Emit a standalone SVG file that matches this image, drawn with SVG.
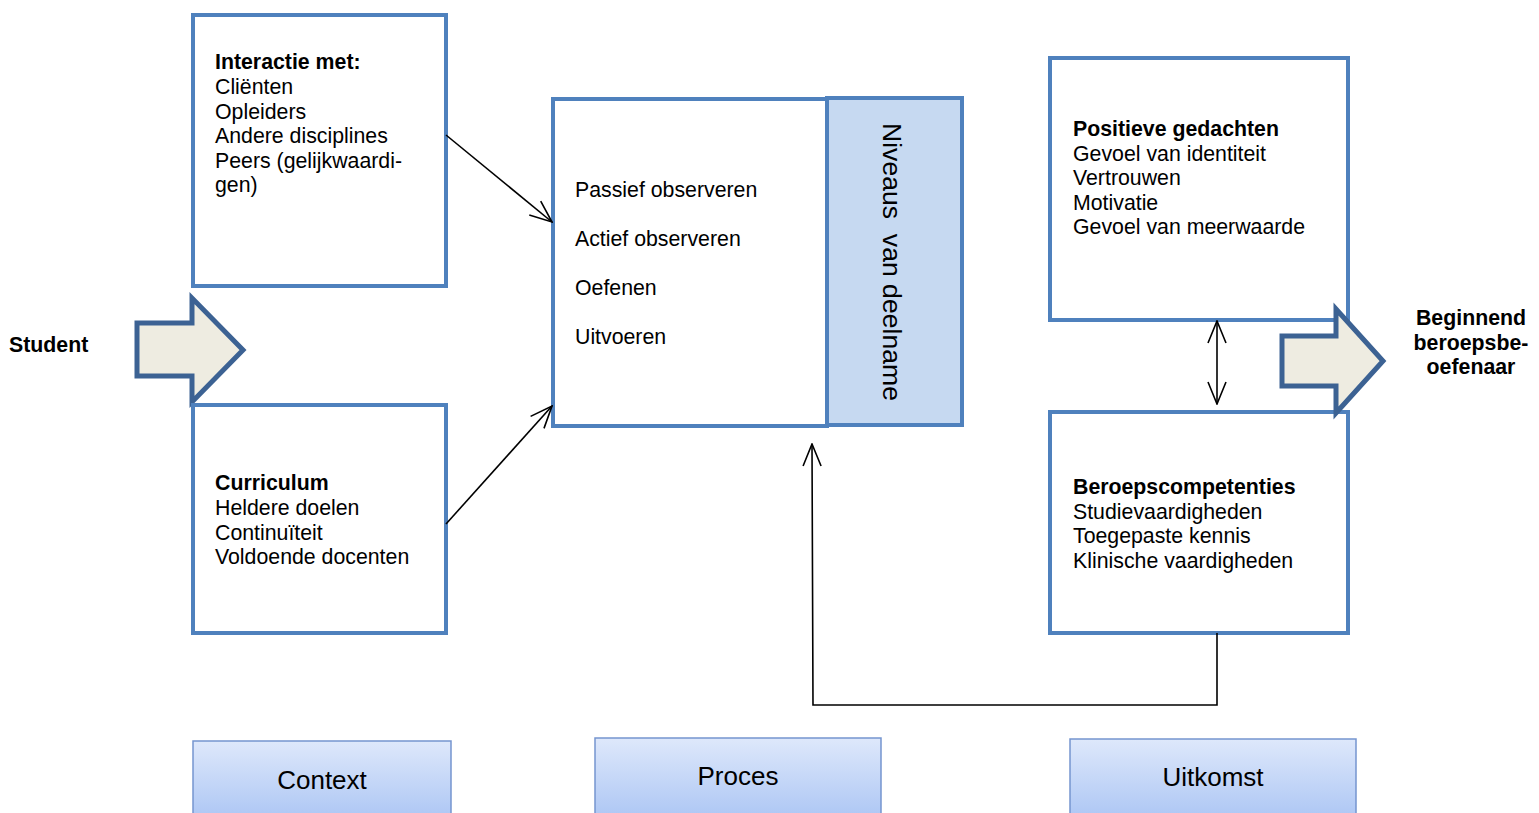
<svg xmlns="http://www.w3.org/2000/svg" width="1539" height="813" viewBox="0 0 1539 813">
<style>
.box{fill:#fff;stroke:#4F81BD;stroke-width:4}
.t{font-family:"Liberation Sans",Arial,sans-serif;font-size:21.3px;fill:#000}
.b{font-weight:bold}
.big{font-family:"Liberation Sans",Arial,sans-serif;font-size:26px;fill:#000}
.conn{stroke:#000;stroke-width:1.6;fill:none}
.fat{fill:#EEECE1;stroke:#3C6293;stroke-width:5;stroke-linejoin:miter}
.btn{fill:url(#g);stroke:#7595CF;stroke-width:1.5}
</style>
<defs>
<linearGradient id="g" x1="0" y1="0" x2="0" y2="1">
<stop offset="0" stop-color="#DEE8FB"/>
<stop offset="1" stop-color="#A5C1F3"/>
</linearGradient>
<marker id="ah2" viewBox="0 0 24 24" refX="23" refY="12" markerWidth="24" markerHeight="24" markerUnits="userSpaceOnUse" orient="auto-start-reverse">
<path d="M1,3 L23,12 L1,21" fill="none" stroke="#000" stroke-width="1.6"/>
</marker>
</defs>

<g id="student">
<text class="t b" x="9" y="352">Student</text>
</g>
<g id="arrow-left">
<path class="fat" d="M137,323 L192,323 L192,298 L243,350 L192,402 L192,376 L137,376 Z"/>
</g>

<g id="interactie">
<rect class="box" x="193" y="15" width="253" height="271"/>
<text class="t" x="215" y="69"><tspan class="b">Interactie met:</tspan><tspan x="215" dy="25">Cliënten</tspan><tspan x="215" dy="24.5">Opleiders</tspan><tspan x="215" dy="24.5">Andere disciplines</tspan><tspan x="215" dy="24.5">Peers (gelijkwaardi-</tspan><tspan x="215" dy="24.5">gen)</tspan></text>
</g>

<g id="curriculum">
<rect class="box" x="193" y="405" width="253" height="228"/>
<text class="t" x="215" y="490"><tspan class="b">Curriculum</tspan><tspan x="215" dy="25">Heldere doelen</tspan><tspan x="215" dy="24.5">Continuïteit</tspan><tspan x="215" dy="24.5">Voldoende docenten</tspan></text>
</g>

<g id="proces-box">
<rect class="box" x="553" y="99" width="274" height="327"/>
<text class="t" x="575" y="197">Passief observeren</text>
<text class="t" x="575" y="246">Actief observeren</text>
<text class="t" x="575" y="295">Oefenen</text>
<text class="t" x="575" y="344">Uitvoeren</text>
</g>

<g id="niveaus">
<rect x="827" y="98" width="135" height="327" fill="#C6D9F1" stroke="#4F81BD" stroke-width="4"/>
<text class="big" style="font-size:26.6px" transform="translate(883,123) rotate(90)" xml:space="preserve">Niveaus  van deelname</text>
</g>

<g id="positieve">
<rect class="box" x="1050" y="58" width="298" height="262"/>
<text class="t" x="1073" y="136"><tspan class="b">Positieve gedachten</tspan><tspan x="1073" dy="24.5">Gevoel van identiteit</tspan><tspan x="1073" dy="24.5">Vertrouwen</tspan><tspan x="1073" dy="24.5">Motivatie</tspan><tspan x="1073" dy="24.5">Gevoel van meerwaarde</tspan></text>
</g>

<g id="beroeps">
<rect class="box" x="1050" y="412" width="298" height="221"/>
<text class="t" x="1073" y="494"><tspan class="b">Beroepscompetenties</tspan><tspan x="1073" dy="24.5">Studievaardigheden</tspan><tspan x="1073" dy="24.5">Toegepaste kennis</tspan><tspan x="1073" dy="24.5">Klinische vaardigheden</tspan></text>
</g>

<g id="arrow-right">
<path class="fat" d="M1282,336 L1336,336 L1336,309 L1383,361 L1336,413 L1336,386 L1282,386 Z"/>
</g>
<g id="beginnend">
<text class="t b" text-anchor="middle"><tspan x="1471" y="325">Beginnend</tspan><tspan x="1471" y="350">beroepsbe-</tspan><tspan x="1471" y="374">oefenaar</tspan></text>
</g>

<g id="connectors">
<line class="conn" x1="446" y1="135" x2="552" y2="222" marker-end="url(#ah2)"/>
<line class="conn" x1="446" y1="524" x2="552" y2="406" marker-end="url(#ah2)"/>
<line class="conn" x1="1217" y1="321" x2="1217" y2="404" marker-start="url(#ah2)" marker-end="url(#ah2)"/>
<polyline class="conn" points="1217,633 1217,705 813,705 812,444" marker-end="url(#ah2)"/>
</g>

<g id="context">
<rect class="btn" x="193" y="741" width="258" height="90"/>
<text class="big" x="322" y="789" text-anchor="middle">Context</text>
</g>
<g id="proces">
<rect class="btn" x="595" y="738" width="286" height="93"/>
<text class="big" x="738" y="785" text-anchor="middle">Proces</text>
</g>
<g id="uitkomst">
<rect class="btn" x="1070" y="739" width="286" height="92"/>
<text class="big" x="1213" y="786" text-anchor="middle">Uitkomst</text>
</g>
</svg>
